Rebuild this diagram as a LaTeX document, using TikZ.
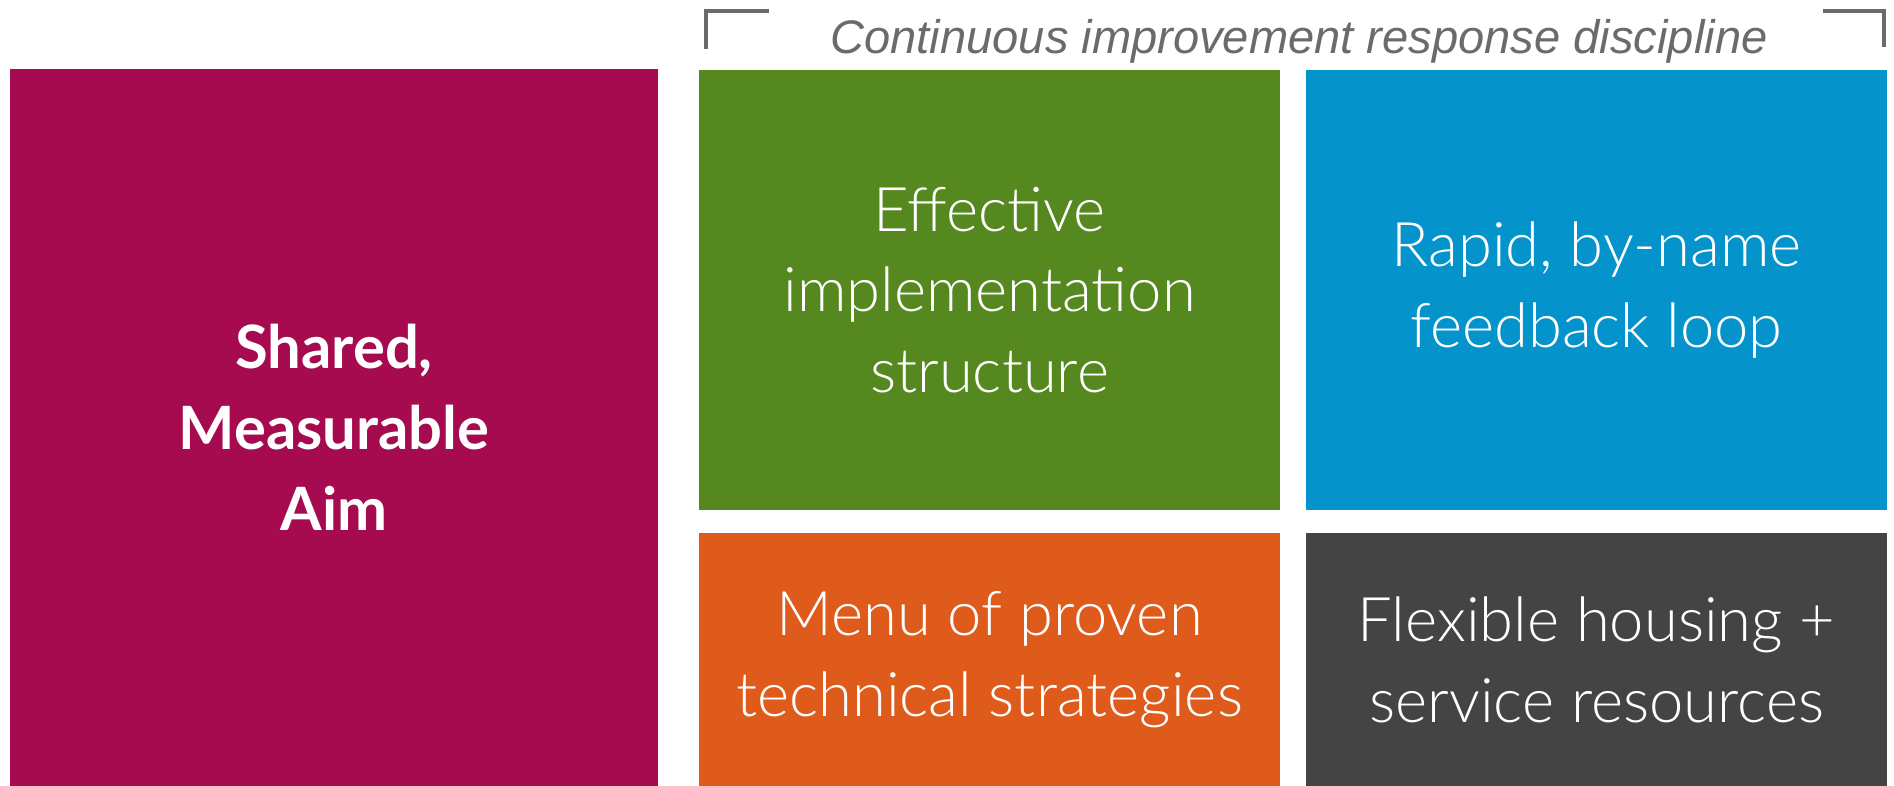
\documentclass[tikz,border=0pt]{standalone}
\usepackage{fontspec}
\setmainfont{Lato}
\newfontfamily\tilefont{Lato Light}
\setsansfont{Liberation Sans}
\usetikzlibrary{positioning}

\definecolor{aimred}{HTML}{A50B4E}
\definecolor{implgreen}{HTML}{55881F}
\definecolor{loopblue}{HTML}{0593CB}
\definecolor{menuorange}{HTML}{DE5B1C}
\definecolor{housegray}{HTML}{444444}
\definecolor{bracketgray}{HTML}{6B6B6B}

\begin{document}
\begin{tikzpicture}[
    every node/.style={inner sep=0pt, outer sep=0pt},
    tile/.style={anchor=north west, text=white, align=center,
        minimum width=5.81cm, font=\tilefont\fontsize{17.5}{23}\selectfont},
    bracket/.style={bracketgray, line width=1.2pt}
  ]
    \useasboundingbox (0,0) rectangle (18.94,7.86);

    % the aim on the left
    \node[tile, fill=aimred, minimum width=6.48cm, minimum height=7.17cm,
        font=\bfseries\fontsize{17}{23}\selectfont] (aim) at (0.10,7.17)
        {Shared,\\Measurable\\Aim};

    % the four tiles
    \node[tile, fill=implgreen, minimum height=4.40cm] (structure) at (6.99,7.16)
        {Effective\\implementation\\structure};
    \node[tile, fill=loopblue, minimum height=4.40cm,
        right=0.26cm of structure.north east, anchor=north west] (loop)
        {Rapid, by-name\\feedback loop};
    \node[tile, fill=menuorange, minimum height=2.53cm,
        below=0.23cm of structure.south west, anchor=north west] (strategies)
        {Menu of proven\\technical strategies};
    \node[tile, fill=housegray, minimum height=2.53cm,
        right=0.26cm of strategies.north east, anchor=north west] (resources)
        {Flexible housing +\\service resources};

    %putting the bracket and its label:
    \node[anchor=base, text=bracketgray, font=\sffamily\itshape\fontsize{13.4}{15}\selectfont]
        (discipline) at (12.99,7.32) {Continuous improvement response discipline};
    \draw[bracket] (7.06,7.37) |- (7.69,7.75);
    \draw[bracket] (18.23,7.75) -| (18.84,7.39);

\end{tikzpicture}
\end{document}
